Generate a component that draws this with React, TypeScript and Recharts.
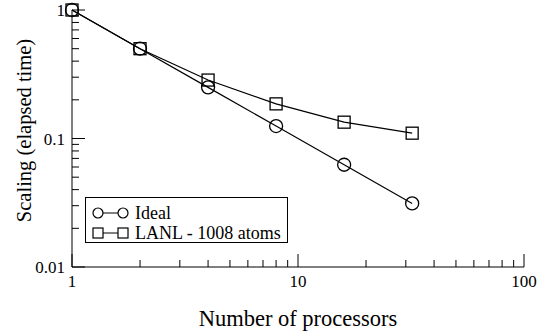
import React from "react";
import { LineChart, Line, XAxis, YAxis, Legend } from "recharts";

const procs = [1, 2, 4, 8, 16, 32];
const ideal = [1, 0.5, 0.25, 0.125, 0.0625, 0.03125];
const lanl = [1, 0.5, 0.285, 0.186, 0.134, 0.11];

const xTicks = [1, 2, 3, 4, 5, 6, 7, 8, 9, 10, 20, 30, 40, 50, 60, 70, 80, 90, 100];
const yTicks = [
  0.01, 0.02, 0.03, 0.04, 0.05, 0.06, 0.07, 0.08, 0.09,
  0.1, 0.2, 0.3, 0.4, 0.5, 0.6, 0.7, 0.8, 0.9, 1,
];
const xLabels: Record<number, string> = { 1: "1", 10: "10", 100: "100" };
const yLabels: Record<number, string> = { 0.01: "0.01", 0.1: "0.1", 1: "1" };

const seriesNames = ["Ideal", "LANL - 1008 atoms"];

const data = procs.map((p, i) => ({ procs: p, ideal: ideal[i], lanl: lanl[i] }));

const FONT = "Liberation Serif";
const INK = "#000";

const isMajor = (v: number) => Math.abs(Math.log10(v) - Math.round(Math.log10(v))) < 1e-6;

// ticks point into the plot; labels only on decades
const makeTick = (side: "bottom" | "top" | "left" | "right", labels?: Record<number, string>) =>
  (props: any) => {
    const { x, y, payload } = props;
    const v = payload.value;
    const len = isMajor(v) ? 13 : 7;
    let line;
    if (side === "bottom") line = <line x1={x} x2={x} y1={y} y2={y - len} stroke={INK} />;
    else if (side === "top") line = <line x1={x} x2={x} y1={y} y2={y + len} stroke={INK} />;
    else if (side === "left") line = <line x1={x} x2={x + len} y1={y} y2={y} stroke={INK} />;
    else line = <line x1={x} x2={x - len} y1={y} y2={y} stroke={INK} />;
    const label = labels ? labels[v] : undefined;
    return (
      <g>
        {line}
        {label && side === "bottom" && (
          <text x={x} y={y + 20} textAnchor="middle" fontFamily={FONT} fontSize={17} fill={INK}>
            {label}
          </text>
        )}
        {label && side === "left" && (
          <text x={x - 7} y={y + 6} textAnchor="end" fontFamily={FONT} fontSize={17} fill={INK}>
            {label}
          </text>
        )}
      </g>
    );
  };

const Circle = (props: any) => {
  const { cx, cy, index } = props;
  if (cx == null || cy == null) return <g key={index} />;
  return <circle key={index} cx={cx} cy={cy} r={6.5} fill="none" stroke={INK} strokeWidth={1.3} />;
};

const Square = (props: any) => {
  const { cx, cy, index } = props;
  if (cx == null || cy == null) return <g key={index} />;
  return <rect key={index} x={cx - 6} y={cy - 6} width={12} height={12} fill="none" stroke={INK} strokeWidth={1.3} />;
};

const LegendBox = () => (
  <div style={{ width: 201, height: 44, border: "1px solid #000", background: "#fff" }}>
    <svg width={201} height={44} style={{ display: "block" }}>
      <line x1={12} x2={37} y1={15} y2={15} stroke={INK} />
      <circle cx={12} cy={15} r={5} fill="#fff" stroke={INK} strokeWidth={1.2} />
      <circle cx={37} cy={15} r={5} fill="#fff" stroke={INK} strokeWidth={1.2} />
      <text x={49} y={21} fontFamily={FONT} fontSize={18} fill={INK}>{seriesNames[0]}</text>
      <line x1={12} x2={37} y1={35} y2={35} stroke={INK} />
      <rect x={7} y={30} width={10} height={10} fill="#fff" stroke={INK} strokeWidth={1.2} />
      <rect x={32} y={30} width={10} height={10} fill="#fff" stroke={INK} strokeWidth={1.2} />
      <text x={49} y={41} fontFamily={FONT} fontSize={18} fill={INK}>{seriesNames[1]}</text>
    </svg>
  </div>
);

export default function App() {
  return (
    <div style={{ position: "absolute", left: 0, top: 0, background: "#fff", fontFamily: FONT }}>
      <LineChart
        width={538}
        height={334}
        data={data}
        margin={{ top: 10, right: 14, bottom: 7, left: 12 }}
        style={{ fontFamily: FONT }}
      >
        <XAxis
          xAxisId="b"
          dataKey="procs"
          type="number"
          scale="log"
          domain={[1, 100]}
          ticks={xTicks}
          interval={0}
          tickSize={0}
          tickMargin={0}
          tickLine={false}
          axisLine={{ stroke: INK }}
          height={60}
          tick={makeTick("bottom", xLabels)}
          label={{
            content: (p: any) => {
              const vb = p.viewBox;
              return (
                <text x={vb.x + vb.width / 2} y={326} textAnchor="middle" fontFamily={FONT} fontSize={22.5} fill={INK}>
                  Number of processors
                </text>
              );
            },
          }}
        />
        <XAxis
          xAxisId="t"
          orientation="top"
          dataKey="procs"
          type="number"
          scale="log"
          domain={[1, 100]}
          allowDataOverflow
          ticks={xTicks}
          interval={0}
          tickSize={0}
          tickMargin={0}
          tickLine={false}
          axisLine={{ stroke: INK }}
          height={0}
          tick={makeTick("top")}
        />
        <YAxis
          yAxisId="l"
          type="number"
          scale="log"
          domain={[0.01, 1]}
          ticks={yTicks}
          interval={0}
          tickSize={0}
          tickMargin={0}
          tickLine={false}
          axisLine={{ stroke: INK }}
          width={60}
          tick={makeTick("left", yLabels)}
          label={{
            content: (p: any) => {
              const vb = p.viewBox;
              const cy = vb.y + vb.height / 2 - 8;
              return (
                <text x={31} y={cy} transform={`rotate(-90 31 ${cy})`} textAnchor="middle" fontFamily={FONT} fontSize={20.5} fill={INK}>
                  Scaling (elapsed time)
                </text>
              );
            },
          }}
        />
        <YAxis
          yAxisId="r"
          orientation="right"
          type="number"
          scale="log"
          domain={[0.01, 1]}
          allowDataOverflow
          ticks={yTicks}
          interval={0}
          tickSize={0}
          tickMargin={0}
          tickLine={false}
          axisLine={{ stroke: INK }}
          width={0}
          tick={makeTick("right")}
        />
        <Legend
          layout="horizontal"
          verticalAlign="middle"
          content={() => <LegendBox />}
          wrapperStyle={{ position: "absolute", left: 85, top: 197, width: 203 }}
        />
        <Line
          xAxisId="b"
          yAxisId="l"
          dataKey="ideal"
          name={seriesNames[0]}
          stroke={INK}
          strokeWidth={1.2}
          dot={<Circle />}
          isAnimationActive={false}
        />
        <Line
          xAxisId="b"
          yAxisId="l"
          dataKey="lanl"
          name={seriesNames[1]}
          stroke={INK}
          strokeWidth={1.2}
          dot={<Square />}
          isAnimationActive={false}
        />
      </LineChart>
    </div>
  );
}
